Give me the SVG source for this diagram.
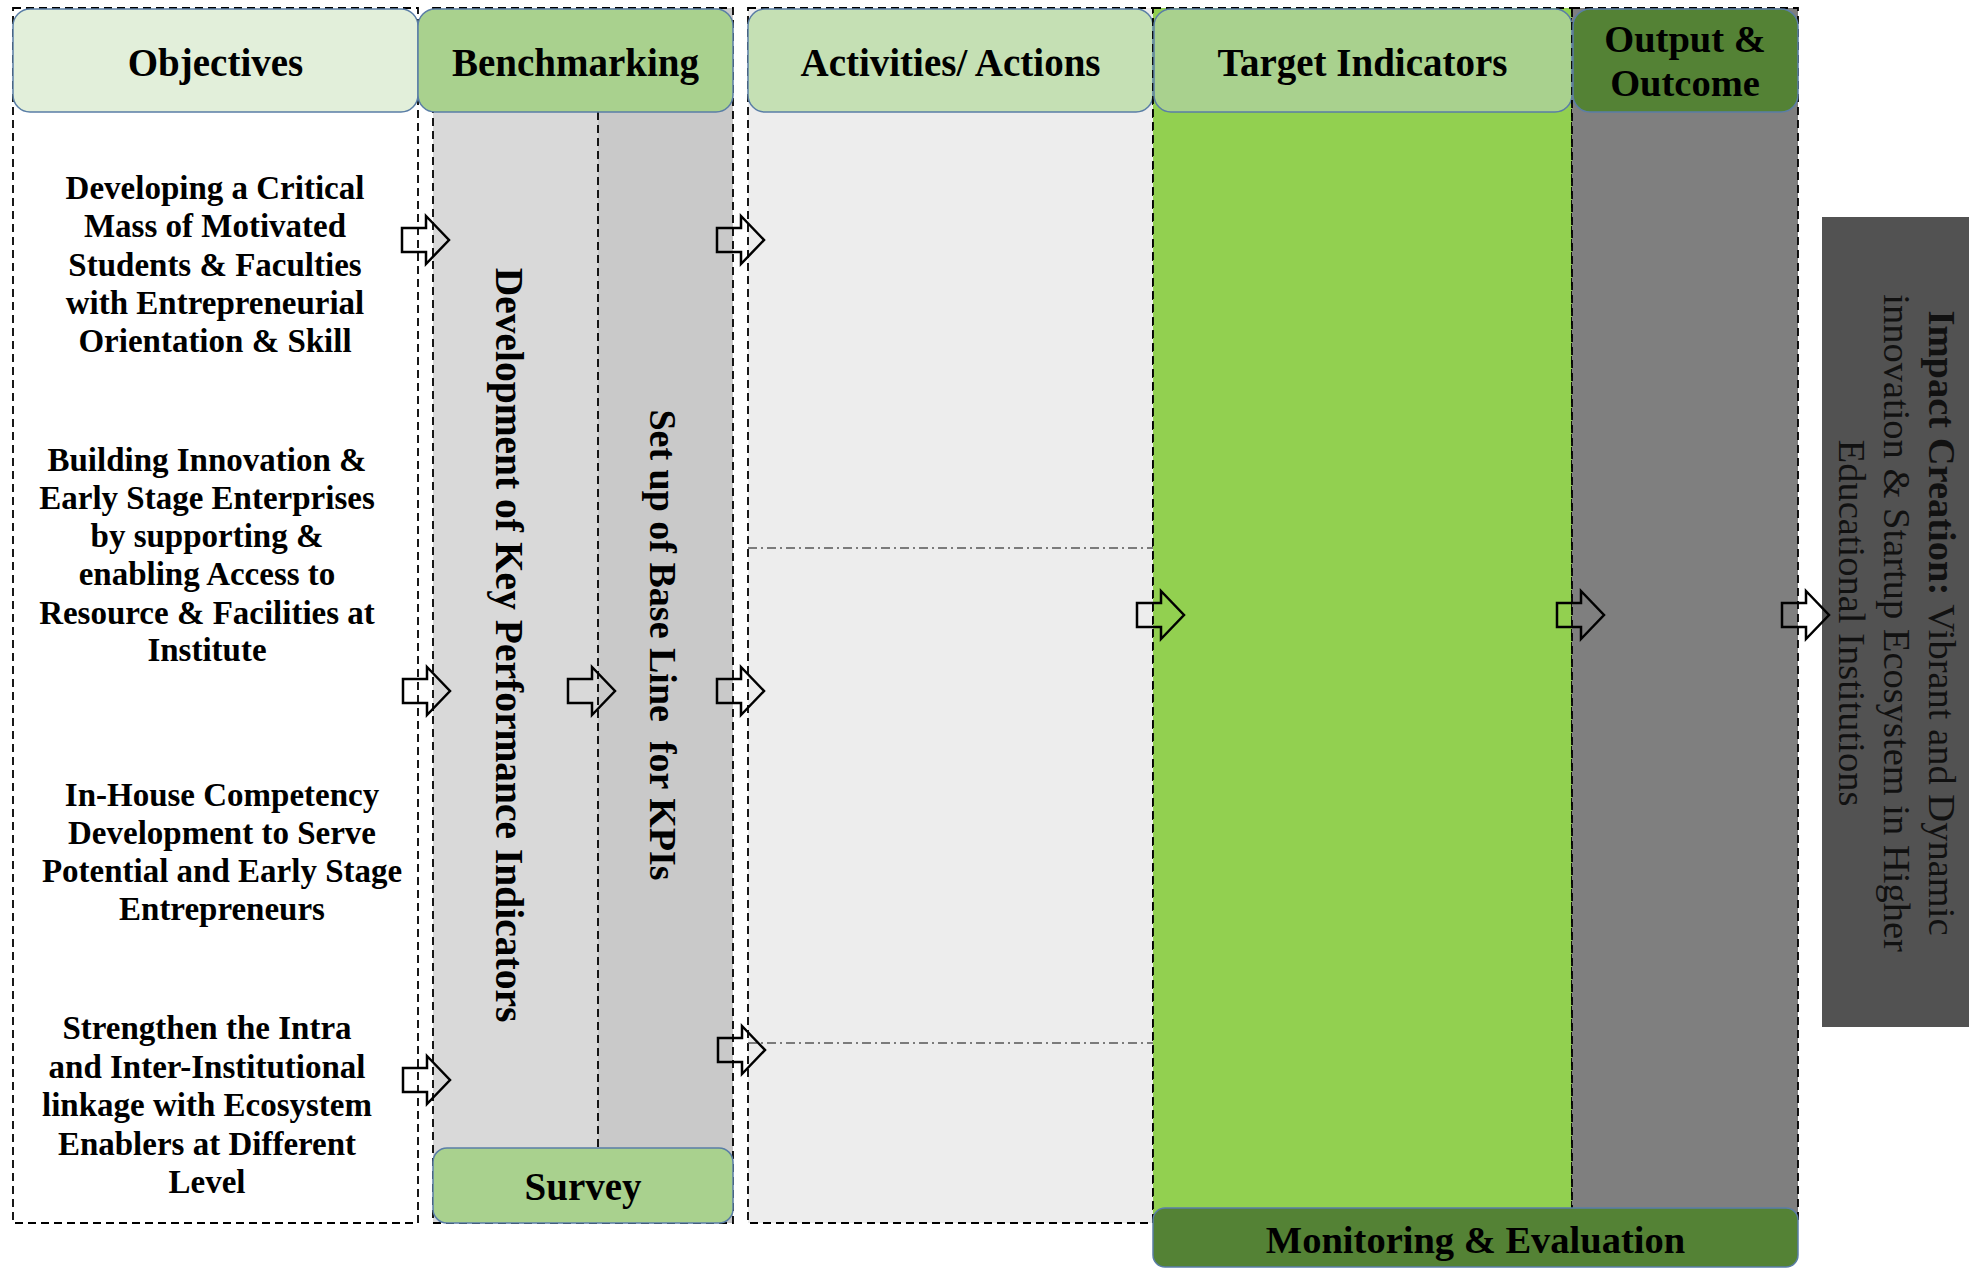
<svg xmlns="http://www.w3.org/2000/svg" xmlns:xlink="http://www.w3.org/1999/xlink" width="1969" height="1268" viewBox="0 0 1969 1268">
<style>
.dash{fill:none;stroke:#000;stroke-width:1.8;stroke-dasharray:8,5}
.dashdot{fill:none;stroke:#555;stroke-width:1.6;stroke-dasharray:9,4,2,4}
.hdr{stroke:#5a7ea6;stroke-width:1.5}
.t{font-family:"Liberation Serif","Times New Roman",serif;font-weight:bold;fill:#000;text-anchor:middle}
.h{font-size:39px}
.obj{font-size:33px}
.vt{font-size:39.5px}
.imp{font-family:"Liberation Serif","Times New Roman",serif;font-size:38.5px;fill:#111;text-anchor:middle}
.arr{fill:none;stroke:#000;stroke-width:2.5;stroke-linejoin:miter}
</style>
<defs>
<path id="arrow" d="M0,-12 H24 V-24 L47,0 L24,24 V12 H0 Z"/>
</defs>
<rect width="1969" height="1268" fill="#fff"/>

<g id="objectives">
<rect class="dash" x="13" y="8" width="405" height="1215"/>
<rect class="hdr" x="13" y="9" width="405" height="103" rx="17" fill="#e2efda"/>
<text class="t h" x="215.5" y="76">Objectives</text>
<g class="t obj">
<text x="215" y="199">Developing a Critical</text>
<text x="215" y="237">Mass of Motivated</text>
<text x="215" y="276">Students &amp; Faculties</text>
<text x="215" y="314">with Entrepreneurial</text>
<text x="215" y="352">Orientation &amp; Skill</text>
<text x="207" y="471">Building Innovation &amp;</text>
<text x="207" y="509">Early Stage Enterprises</text>
<text x="207" y="547">by supporting &amp;</text>
<text x="207" y="585">enabling Access to</text>
<text x="207" y="624">Resource &amp; Facilities at</text>
<text x="207" y="661">Institute</text>
<text x="222" y="806">In-House Competency</text>
<text x="222" y="844">Development to Serve</text>
<text x="222" y="882">Potential and Early Stage</text>
<text x="222" y="920">Entrepreneurs</text>
<text x="207" y="1039">Strengthen the Intra</text>
<text x="207" y="1078">and Inter-Institutional</text>
<text x="207" y="1116">linkage with Ecosystem</text>
<text x="207" y="1155">Enablers at Different</text>
<text x="207" y="1193">Level</text>
</g>
</g>

<g id="benchmarking">
<rect x="433" y="8" width="165" height="1215" fill="#d9d9d9"/>
<rect x="598" y="8" width="135" height="1215" fill="#c9c9c9"/>
<line class="dash" x1="598" y1="112" x2="598" y2="1148" stroke-width="1.4"/>
<rect class="dash" x="433" y="8" width="300" height="1215"/>
<rect class="hdr" x="418" y="9" width="315" height="103" rx="17" fill="#a9d18e"/>
<text class="t h" x="575.5" y="76">Benchmarking</text>
<text class="t vt" transform="translate(496,645) rotate(90)">Development of Key Performance Indicators</text>
<text class="t" font-size="38" style="white-space:pre" transform="translate(650,645) rotate(90)">Set up of Base Line  for KPIs</text>
</g>

<g id="survey">
<rect class="hdr" x="433" y="1148" width="300" height="75" rx="14" fill="#a9d18e"/>
<text class="t h" x="583" y="1200">Survey</text>
</g>

<g id="activities">
<rect x="748" y="8" width="405" height="1215" fill="#ededed"/>
<rect class="dash" x="748" y="8" width="405" height="1215"/>
<line class="dashdot" x1="748" y1="548" x2="1153" y2="548"/>
<line class="dashdot" x1="748" y1="1043" x2="1153" y2="1043"/>
<rect class="hdr" x="748" y="9" width="405" height="103" rx="17" fill="#c5e0b4"/>
<text class="t h" x="950.5" y="76">Activities/ Actions</text>
</g>

<g id="target">
<rect x="1153" y="8" width="419" height="1215" fill="#92d050"/>
<rect class="dash" x="1153" y="8" width="419" height="1215"/>
<rect class="hdr" x="1154" y="9" width="418" height="103" rx="17" fill="#a9d18e"/>
<text class="t h" x="1362.5" y="76">Target Indicators</text>
</g>

<g id="output">
<rect x="1572" y="8" width="226" height="1215" fill="#7f7f7f"/>
<rect class="dash" x="1572" y="8" width="226" height="1215"/>
<rect class="hdr" x="1573" y="9" width="225" height="103" rx="17" fill="#548235"/>
<text class="t" font-size="38.5" x="1685" y="52">Output &amp;</text>
<text class="t" font-size="38.5" x="1685" y="96">Outcome</text>
</g>

<g id="monitoring">
<rect class="hdr" x="1153" y="1208" width="645" height="59" rx="12" fill="#548235"/>
<text class="t" font-size="38.5" x="1475.5" y="1253">Monitoring &amp; Evaluation</text>
</g>

<g id="impact">
<rect x="1822" y="217" width="147" height="810" fill="#525252"/>
<text class="imp" transform="translate(1929,623) rotate(90)"><tspan font-weight="bold">Impact Creation:</tspan> Vibrant and Dynamic</text>
<text class="imp" transform="translate(1884,623) rotate(90)">innovation &amp; Startup Ecosystem in Higher</text>
<text class="imp" transform="translate(1839,623) rotate(90)">Educational Institutions</text>
</g>

<g id="connectors" class="arr">
<use href="#arrow" xlink:href="#arrow" x="402" y="240"/>
<use href="#arrow" xlink:href="#arrow" x="717" y="240"/>
<use href="#arrow" xlink:href="#arrow" x="403" y="691"/>
<use href="#arrow" xlink:href="#arrow" x="568" y="691"/>
<use href="#arrow" xlink:href="#arrow" x="717" y="691"/>
<use href="#arrow" xlink:href="#arrow" x="403" y="1080"/>
<use href="#arrow" xlink:href="#arrow" x="718" y="1050"/>
<use href="#arrow" xlink:href="#arrow" x="1137" y="615"/>
<use href="#arrow" xlink:href="#arrow" x="1557" y="615"/>
<use href="#arrow" xlink:href="#arrow" x="1782" y="615"/>
</g>
</svg>
